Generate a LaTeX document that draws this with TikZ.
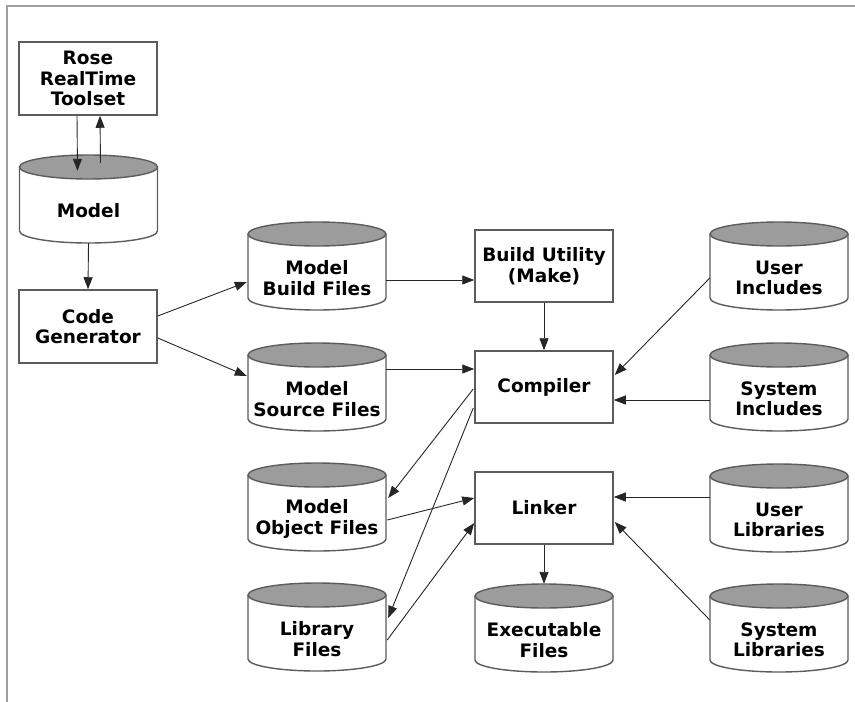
\documentclass[tikz,border=0pt]{standalone}
\usepackage{fontspec}
\setmainfont{DejaVu Sans}
\usetikzlibrary{arrows.meta,calc}

\definecolor{capgray}{RGB}{156,156,156}
\definecolor{edgegray}{RGB}{92,92,92}
\definecolor{framegray}{RGB}{160,160,160}

% Data store: an invisible named box plus a drawn cylinder and its label
\newcommand\datastore[4]{%
  \node[storebox] (#1) at (#2,#3) {};
  \begin{scope}[shift={(#2,#3)}]
    \draw[edgegray, line width=1.4pt, fill=white]
      (-69,-32) -- (-69,32) arc[start angle=180, end angle=360, x radius=69pt, y radius=12pt] -- (69,-32);
    \draw[edgegray, line width=1.4pt, fill=capgray] (0,-32) ellipse[x radius=69pt, y radius=12pt];
  \end{scope}
  \node[lbl] (#1-t) at ($(#1.center)+(0,12)$) {#4};
}

\begin{document}
\begin{tikzpicture}[x=1pt, y=-1pt,
  lbl/.style={font=\fontsize{18.5}{20.5}\selectfont\bfseries, align=center, inner sep=0pt},
  procbox/.style={lbl, draw=edgegray, line width=1.5pt, fill=white,
    minimum width=138pt, minimum height=72pt},
  storebox/.style={inner sep=0pt, minimum width=138pt, minimum height=88pt},
  conn/.style={draw=black!85, line width=0.9pt, -{Triangle[length=12pt,width=9pt]}}]

\useasboundingbox (0,0) rectangle (855,702);
\draw[framegray, line width=1.5pt] (855,6) -- (7,6) -- (7,702);

% processes
\node[procbox, minimum height=73pt] (rose) at (88,78.5) {Rose\\RealTime\\Toolset};
\node[procbox, minimum height=73pt] (cg) at (88,326.5) {Code\\Generator};
\node[procbox] (bu) at (544,266) {Build Utility\\(Make)};
\node[procbox] (comp) at (544,387) {Compiler};
\node[procbox] (link) at (544,508) {Linker};

% data stores
\datastore{model}{88.5}{199}{Model}
\datastore{mbf}{317}{266}{Model\\Build Files}
\datastore{msf}{317}{387}{Model\\Source Files}
\datastore{mof}{317}{507}{Model\\Object Files}
\datastore{lf}{317}{627}{Library\\Files}
\datastore{exe}{544}{628}{Executable\\Files}
\datastore{ui}{779}{266}{User\\Includes}
\datastore{si}{779}{387}{System\\Includes}
\datastore{ul}{779}{508}{User\\Libraries}
\datastore{sl}{779}{628}{System\\Libraries}

% connectors
\draw[conn] ($(rose.south)+(-11,0)$) -- ($(model.north)+(-11,16)$);
\draw[conn] ($(model.north)+(12,8)$) -- ($(rose.south)+(12,0)$);
\draw[conn] (model.south) -- (cg.north);
\draw[conn] ($(cg.east)+(0,-10.5)$) -- ($(mbf.west)+(-1,16)$);
\draw[conn] ($(cg.east)+(0,11.5)$) -- ($(msf.west)+(-1,-11)$);
\draw[conn] ($(mbf.east)+(0,14)$) -- ($(bu.west)+(0,14)$);
\draw[conn] (bu.south) -- (comp.north);
\draw[conn] ($(msf.east)+(0,-18)$) -- ($(comp.west)+(0,-18)$);
\draw[conn] ($(ui.west)+(0,12)$) -- ($(comp.east)+(1,-12)$);
\draw[conn] ($(si.west)+(0,13)$) -- ($(comp.east)+(0,13)$);
\draw[conn] ($(comp.west)+(-1,2)$) -- ($(mof.east)+(2,-9)$);
\draw[conn] ($(comp.west)+(-1,21)$) -- ($(lf.east)+(2,-9)$);
\draw[conn] ($(mof.east)+(1,13)$) -- ($(link.west)+(0,-10)$);
\draw[conn] ($(lf.east)+(1,13)$) -- ($(link.west)+(0,15)$);
\draw[conn] (link.south) -- (exe.north);
\draw[conn] ($(ul.west)+(0,-11)$) -- ($(link.east)+(0,-11)$);
\draw[conn] ($(sl.west)+(0,-8)$) -- ($(link.east)+(1,14)$);

\end{tikzpicture}
\end{document}
